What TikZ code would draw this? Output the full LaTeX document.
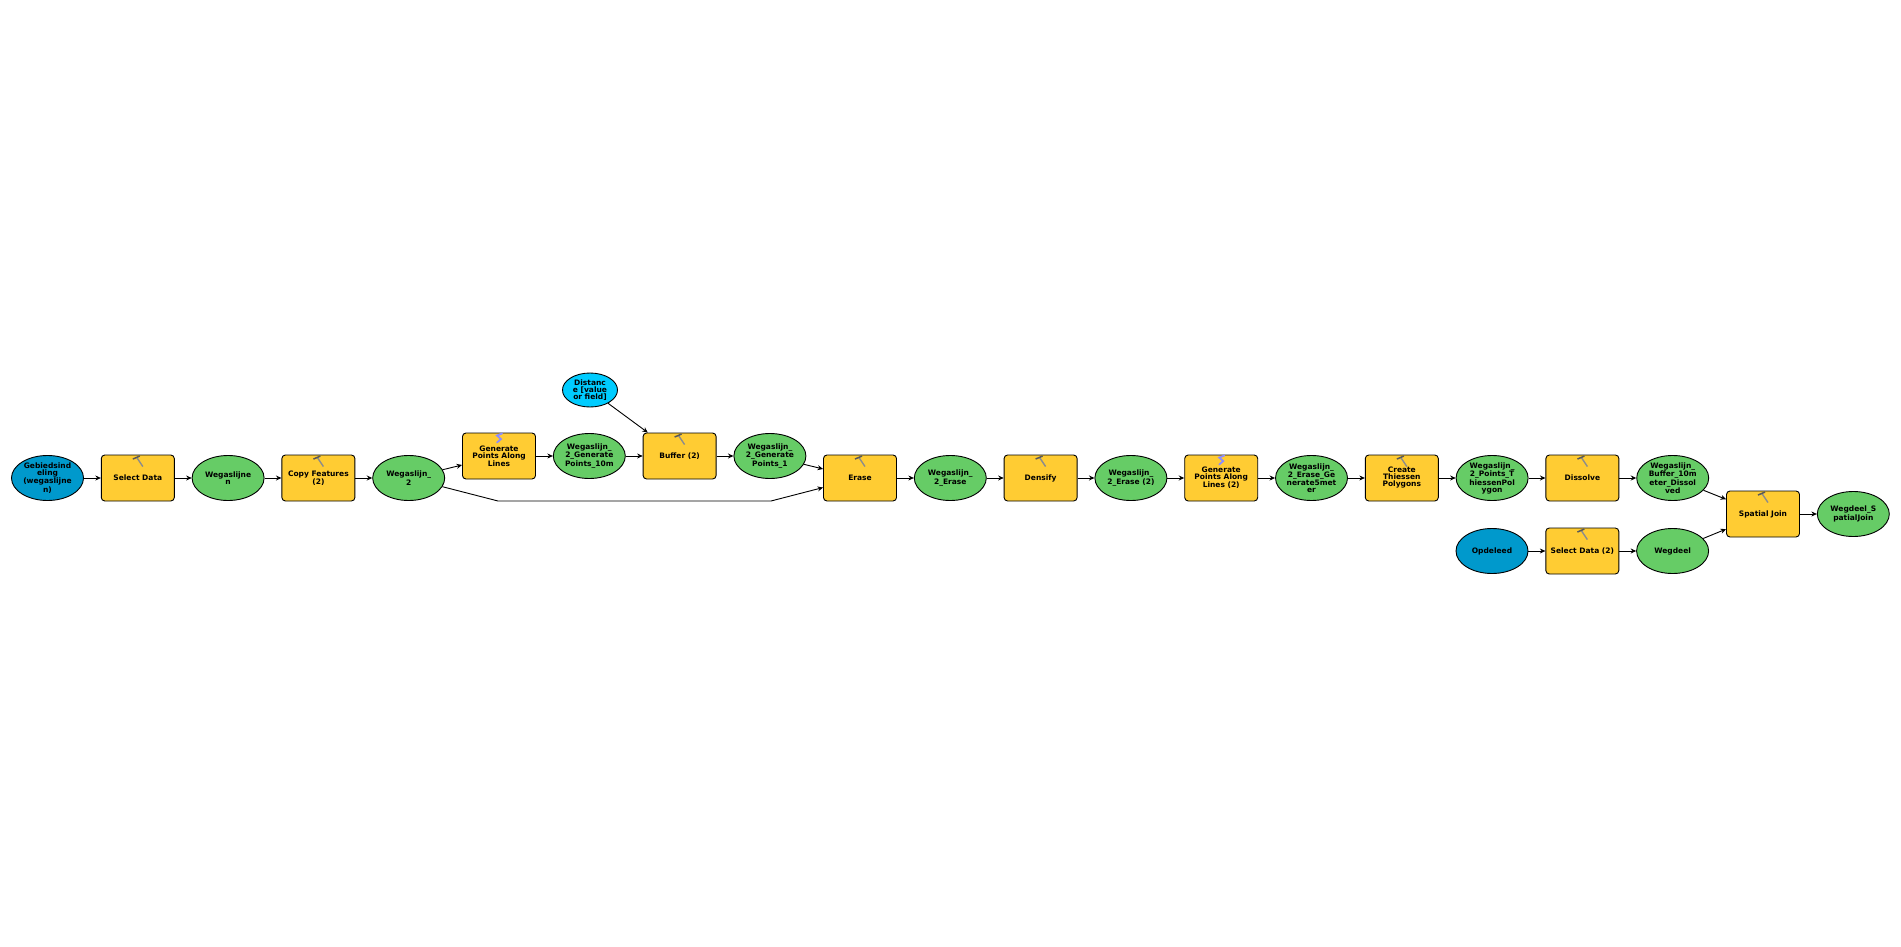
\documentclass[tikz,border=0pt]{standalone}
\usepackage{fontspec}
\setmainfont{DejaVu Sans}
\usepackage{tikz}
\usetikzlibrary{shapes.geometric, arrows.meta}

\begin{document}
\begin{tikzpicture}[x=1pt, y=-1pt, >={Stealth[length=5.5pt,width=5pt]}, auto, node distance=90.3pt, line width=0.9pt,
		every node/.style={font=\fontsize{7.5}{7}\selectfont\bfseries, align=center, inner sep=0pt, draw=black},
		tool/.style={rectangle, rounded corners=3.5pt, fill=toolyellow, minimum width=73pt, minimum height=46pt},
		data/.style={ellipse, fill=datagreen, minimum width=72pt, minimum height=45pt},
		input/.style={ellipse, fill=inputblue, minimum width=72pt, minimum height=45pt},
		param/.style={ellipse, fill=paramblue, minimum width=55pt, minimum height=34pt},
		link/.style={->, line width=0.9pt}]

	\definecolor{toolyellow}{HTML}{FFCC33}
	\definecolor{datagreen}{HTML}{66CC66}
	\definecolor{inputblue}{HTML}{0099CC}
	\definecolor{paramblue}{HTML}{00CCFF}

	\useasboundingbox (0,0) rectangle (1901,947);

	% main row
	\node[input] (A) at (47.5,478) {Gebiedsind\\eling\\(wegaslijne\\n)};
	\node[tool]  (B) [right of=A]  {Select Data};
	\node[data]  (C) [right of=B]  {Wegaslijne\\n};
	\node[tool]  (D) [right of=C]  {Copy Features\\(2)};
	\node[data]  (E) [right of=D]  {Wegaslijn\_\\2};

	% upper branch
	\node[tool]  (F) at (499,456)  {Generate\\Points Along\\Lines};
	\node[data]  (G) [right of=F]  {Wegaslijn\_\\2\_Generate\\Points\_10m};
	\node[tool]  (H) [right of=G]  {Buffer (2)};
	\node[data]  (I) [right of=H]  {Wegaslijn\_\\2\_Generate\\Points\_1};
	\node[param] (J) at (590,390)  {Distanc\\e [value\\or field]};

	\node[tool]  (K) at (860,478)  {Erase};
	\node[data]  (L) [right of=K]  {Wegaslijn\_\\2\_Erase};
	\node[tool]  (M) [right of=L]  {Densify};
	\node[data]  (N) [right of=M]  {Wegaslijn\_\\2\_Erase (2)};
	\node[tool]  (O) [right of=N]  {Generate\\Points Along\\Lines (2)};
	\node[data]  (P) [right of=O]  {Wegaslijn\_\\2\_Erase\_Ge\\nerate5met\\er};
	\node[tool]  (Q) [right of=P]  {Create\\Thiessen\\Polygons};
	\node[data]  (R) [right of=Q]  {Wegaslijn\_\\2\_Points\_T\\hiessenPol\\ygon};
	\node[tool]  (S) [right of=R]  {Dissolve};
	\node[data]  (T) [right of=S]  {Wegaslijn\_\\Buffer\_10m\\eter\_Dissol\\ved};

	% lower branch
	\node[input] (U) at (1492,551) {Opdeleed};
	\node[tool]  (V) [right of=U]  {Select Data (2)};
	\node[data]  (W) [right of=V]  {Wegdeel};
	\node[tool]  (X) at (1763,514) {Spatial Join};
	\node[data]  (Y) [right of=X]  {Wegdeel\_S\\patialJoin};

	\coordinate (bendA) at (498,501);
	\coordinate (bendB) at (771,501);

	\draw[link] (A) -- (B);
	\draw[link] (B) -- (C);
	\draw[link] (C) -- (D);
	\draw[link] (D) -- (E);
	\draw[link] (E) -- (F);
	\draw[link] (F) -- (G);
	\draw[link] (G) -- (H);
	\draw[link] (H) -- (I);
	\draw[link] (I) -- (K);
	\draw[link] (J) -- (H);
	\draw[link] (E) -- (bendA) -- (bendB) -- (K);
	\draw[link] (K) -- (L);
	\draw[link] (L) -- (M);
	\draw[link] (M) -- (N);
	\draw[link] (N) -- (O);
	\draw[link] (O) -- (P);
	\draw[link] (P) -- (Q);
	\draw[link] (Q) -- (R);
	\draw[link] (R) -- (S);
	\draw[link] (S) -- (T);
	\draw[link] (T) -- (X);
	\draw[link] (U) -- (V);
	\draw[link] (V) -- (W);
	\draw[link] (W) -- (X);
	\draw[link] (X) -- (Y);

	% tool icons
	\foreach \n in {B,D,H,K,M,Q,S,V,X} {
		\draw[line width=1.4pt, black!45] ([xshift=-1pt,yshift=-3pt]\n.north) -- ([xshift=5pt,yshift=-12pt]\n.north);
		\draw[line width=1.5pt, black!65] ([xshift=-5pt,yshift=-4.5pt]\n.north) -- ([xshift=2pt,yshift=-1.5pt]\n.north);
	}
	\foreach \n in {F,O} {
		\draw[line width=1.8pt, blue!45!white, line cap=round] ([xshift=3pt,yshift=-1pt]\n.north) -- ([xshift=-2pt,yshift=-3pt]\n.north) -- ([xshift=2pt,yshift=-6.5pt]\n.north) -- ([xshift=-2pt,yshift=-10pt]\n.north);
	}
\end{tikzpicture}
\end{document}
